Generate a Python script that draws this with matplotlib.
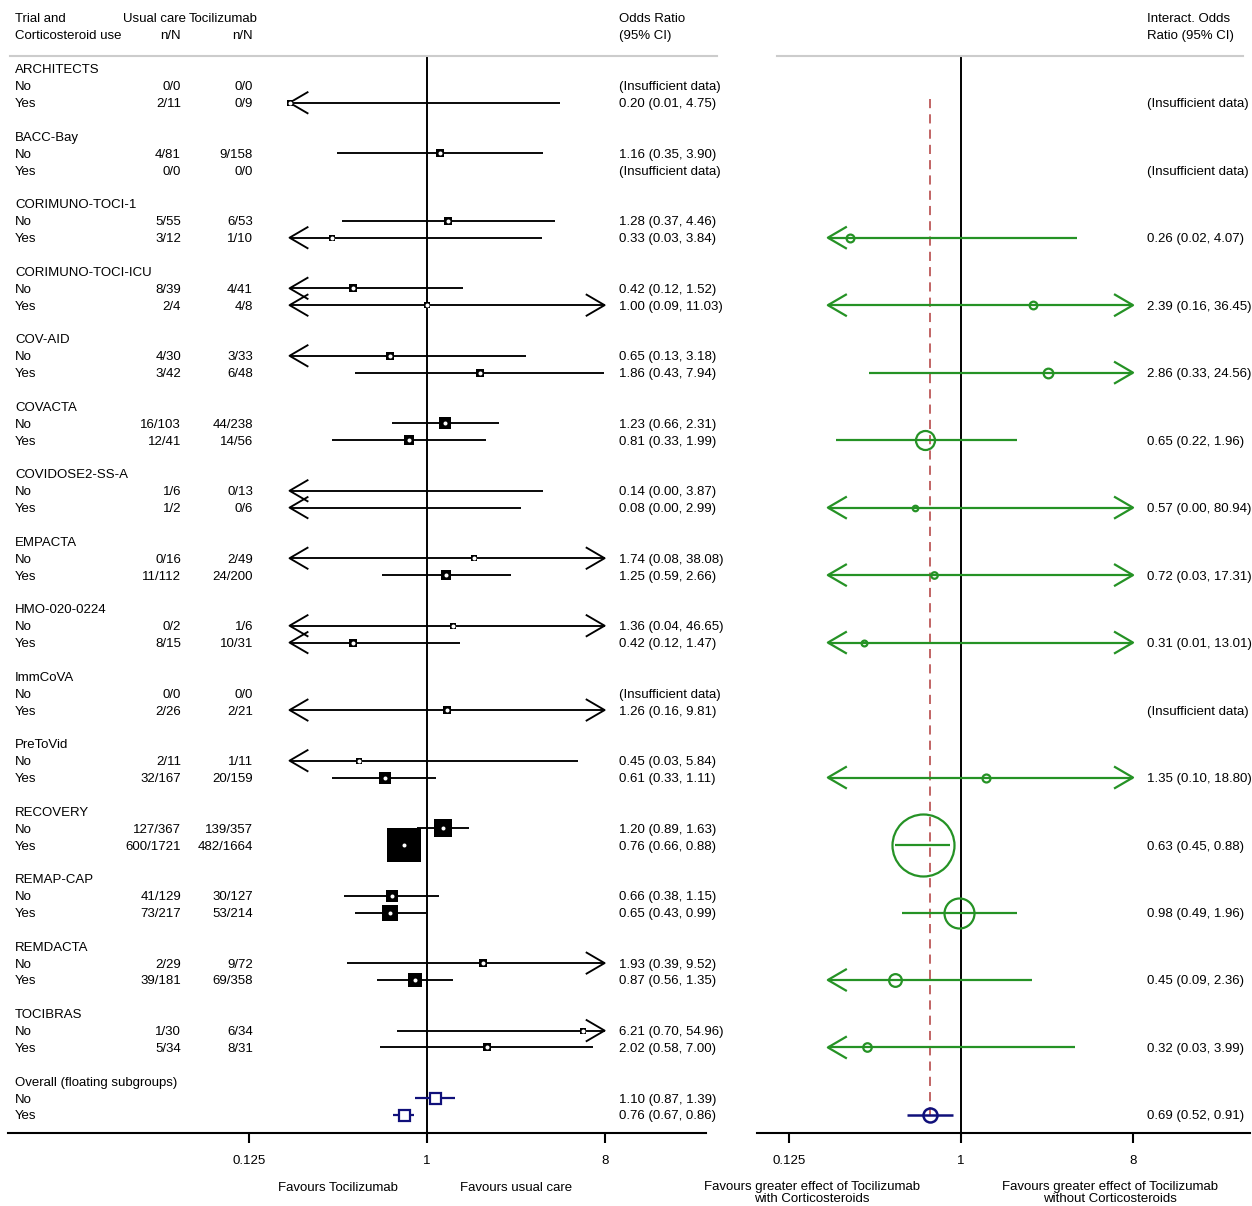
import matplotlib.pyplot as plt
import numpy as np
from matplotlib.lines import Line2D
from matplotlib.transforms import blended_transform_factory

plt.rcParams['font.family'] = ['Liberation Sans', 'DejaVu Sans']
plt.rcParams['font.size'] = 9.5

# ---- data -------------------------------------------------------------
trials = ['ARCHITECTS', 'BACC-Bay', 'CORIMUNO-TOCI-1', 'CORIMUNO-TOCI-ICU',
          'COV-AID', 'COVACTA', 'COVIDOSE2-SS-A', 'EMPACTA', 'HMO-020-0224',
          'ImmCoVA', 'PreToVid', 'RECOVERY', 'REMAP-CAP', 'REMDACTA', 'TOCIBRAS']

usual_no = ['0/0', '4/81', '5/55', '8/39', '4/30', '16/103', '1/6', '0/16',
            '0/2', '0/0', '2/11', '127/367', '41/129', '2/29', '1/30']
toci_no = ['0/0', '9/158', '6/53', '4/41', '3/33', '44/238', '0/13', '2/49',
           '1/6', '0/0', '1/11', '139/357', '30/127', '9/72', '6/34']
usual_yes = ['2/11', '0/0', '3/12', '2/4', '3/42', '12/41', '1/2', '11/112',
             '8/15', '2/26', '32/167', '600/1721', '73/217', '39/181', '5/34']
toci_yes = ['0/9', '0/0', '1/10', '4/8', '6/48', '14/56', '0/6', '24/200',
            '10/31', '2/21', '20/159', '482/1664', '53/214', '69/358', '8/31']

# odds ratios without corticosteroids (None = insufficient data)
or_no = [None, 1.16, 1.28, 0.42, 0.65, 1.23, 0.14, 1.74, 1.36, None, 0.45, 1.20, 0.66, 1.93, 6.21]
lo_no = [None, 0.35, 0.37, 0.12, 0.13, 0.66, 0.00, 0.08, 0.04, None, 0.03, 0.89, 0.38, 0.39, 0.70]
hi_no = [None, 3.90, 4.46, 1.52, 3.18, 2.31, 3.87, 38.08, 46.65, None, 5.84, 1.63, 1.15, 9.52, 54.96]

# odds ratios with corticosteroids
or_yes = [0.20, None, 0.33, 1.00, 1.86, 0.81, 0.08, 1.25, 0.42, 1.26, 0.61, 0.76, 0.65, 0.87, 2.02]
lo_yes = [0.01, None, 0.03, 0.09, 0.43, 0.33, 0.00, 0.59, 0.12, 0.16, 0.33, 0.66, 0.43, 0.56, 0.58]
hi_yes = [4.75, None, 3.84, 11.03, 7.94, 1.99, 2.99, 2.66, 1.47, 9.81, 1.11, 0.88, 0.99, 1.35, 7.00]

# interaction odds ratios
int_or = [None, None, 0.26, 2.39, 2.86, 0.65, 0.57, 0.72, 0.31, None, 1.35, 0.63, 0.98, 0.45, 0.32]
int_lo = [None, None, 0.02, 0.16, 0.33, 0.22, 0.00, 0.03, 0.01, None, 0.10, 0.45, 0.49, 0.09, 0.03]
int_hi = [None, None, 4.07, 36.45, 24.56, 1.96, 80.94, 17.31, 13.01, None, 18.80, 0.88, 1.96, 2.36, 3.99]

overall_or = [1.10, 0.76]
overall_lo = [0.87, 0.67]
overall_hi = [1.39, 0.86]
overall_int = [0.69, 0.52, 0.91]

# ---- layout -----------------------------------------------------------
W, H = 1252, 1206
ROW0, ROW_H = 69, 16.87
TOP, BOTTOM = 57, 1133
CLIP_LO, CLIP_HI = 0.2, 8
TXT_DY = 1.5 / ROW_H  # nudge text baseline slightly below the row centre
GREEN = '#259225'
NAVY = '#10107a'
RED = '#b03a3a'

fig = plt.figure(figsize=(W / 100, H / 100), dpi=100)


def fx(x):
    return x / W


def fy(y):
    return 1 - y / H


def make_axes(x0, x1, one_px, px_per_log2):
    ax = fig.add_axes([fx(x0), fy(BOTTOM), (x1 - x0) / W, (BOTTOM - TOP) / H])
    ax.set_xscale('log', base=2)
    ax.set_xlim(2 ** ((x0 - one_px) / px_per_log2), 2 ** ((x1 - one_px) / px_per_log2))
    ax.set_ylim((BOTTOM - ROW0) / ROW_H, (TOP - ROW0) / ROW_H)
    for side in ('top', 'left', 'right'):
        ax.spines[side].set_visible(False)
    ax.spines['bottom'].set_linewidth(1.5)
    ax.set_yticks([])
    ax.set_xticks([0.125, 1, 8])
    ax.set_xticklabels(['0.125', '1', '8'])
    ax.xaxis.set_minor_locator(plt.NullLocator())
    ax.tick_params(axis='x', length=7, width=1.5, pad=9, labelsize=9.5)
    ax.axvline(1, color='black', lw=1.4, zorder=1)
    return ax


def weight(lo, hi):
    return (3.92 / np.log(hi / max(lo, 0.001))) ** 2


def draw_ci(ax, lo, hi, y, color, lw, px_per_log2):
    a = max(lo, CLIP_LO)
    b = min(hi, CLIP_HI)
    ax.plot([a, b], [y, y], color=color, lw=lw, solid_capstyle='butt', zorder=2)
    k = 2 ** (18 / px_per_log2)
    dy = 10.5 / ROW_H
    if lo < CLIP_LO:
        ax.plot([CLIP_LO * k, CLIP_LO, CLIP_LO * k], [y - dy, y, y + dy],
                color=color, lw=lw, zorder=2)
    if hi > CLIP_HI:
        ax.plot([CLIP_HI / k, CLIP_HI, CLIP_HI / k], [y - dy, y, y + dy],
                color=color, lw=lw, zorder=2)


def fmt(v, lo, hi):
    return f'{v:.2f} ({lo:.2f}, {hi:.2f})'


ax1 = make_axes(8, 706, 427, 59.2)
ax2 = make_axes(757, 1250, 961, 57.33)
tr1 = blended_transform_factory(fig.transFigure, ax1.transData)
tr2 = blended_transform_factory(fig.transFigure, ax2.transData)


def put(tr, x, y, s, **kw):
    fig.text(fx(x), y + TXT_DY, s, transform=tr, va='center', **kw)


# ---- header -----------------------------------------------------------
fig.text(fx(15), fy(19), 'Trial and', va='center')
fig.text(fx(15), fy(36), 'Corticosteroid use', va='center')
fig.text(fx(186), fy(19), 'Usual care', ha='right', va='center')
fig.text(fx(258), fy(19), 'Tocilizumab', ha='right', va='center')
fig.text(fx(181), fy(36), 'n/N', ha='right', va='center')
fig.text(fx(253), fy(36), 'n/N', ha='right', va='center')
fig.text(fx(619), fy(19), 'Odds Ratio', va='center')
fig.text(fx(619), fy(36), '(95% CI)', va='center')
fig.text(fx(1147), fy(19), 'Interact. Odds', va='center')
fig.text(fx(1147), fy(36), 'Ratio (95% CI)', va='center')
for x0, x1 in [(10, 717), (777, 1243)]:
    fig.add_artist(Line2D([fx(x0), fx(x1)], [fy(56), fy(56)], color='#cccccc',
                          lw=1.5, transform=fig.transFigure))

# ---- trial rows -------------------------------------------------------
all_w = [weight(l, h) for l, h in zip(lo_no + lo_yes, hi_no + hi_yes) if l is not None]
wmax = max(all_w)
int_w = [weight(l, h) for l, h in zip(int_lo, int_hi) if l is not None]
wmax_int = max(int_w)

for g, name in enumerate(trials):
    base = 4 * g
    put(tr1, 15, base, name)
    subgroups = [
        ('No', usual_no[g], toci_no[g], or_no[g], lo_no[g], hi_no[g]),
        ('Yes', usual_yes[g], toci_yes[g], or_yes[g], lo_yes[g], hi_yes[g]),
    ]
    for j, (lab, uc, tc, v, lo, hi) in enumerate(subgroups):
        y = base + 1 + j
        put(tr1, 15, y, lab)
        put(tr1, 181, y, uc, ha='right')
        put(tr1, 253, y, tc, ha='right')
        if v is None:
            put(tr1, 619, y, '(Insufficient data)')
            continue
        put(tr1, 619, y, fmt(v, lo, hi))
        draw_ci(ax1, lo, hi, y, 'black', 1.35, 59.2)
        if CLIP_LO - 1e-9 <= v <= CLIP_HI:
            side = 5 + 29 * np.sqrt(weight(lo, hi) / wmax)
            ax1.plot(v, y, 's', color='black', ms=side * 0.72, mew=0, zorder=3)
            ax1.plot(v, y, 'o', color='white', ms=4 * 0.72, mew=0, zorder=4)

    # interaction estimate sits on the "Yes" row
    y = base + 2
    v, lo, hi = int_or[g], int_lo[g], int_hi[g]
    if v is None:
        put(tr2, 1147, y, '(Insufficient data)')
        continue
    put(tr2, 1147, y, fmt(v, lo, hi))
    draw_ci(ax2, lo, hi, y, GREEN, 1.6, 57.33)
    diam = max(5.5, 62 * np.sqrt(weight(lo, hi) / wmax_int))
    ax2.plot(v, y, 'o', mfc='none', mec=GREEN, mew=1.6, ms=diam * 0.72, zorder=3)

# ---- overall ----------------------------------------------------------
ybase = 4 * len(trials)
put(tr1, 15, ybase, 'Overall (floating subgroups)')
for j, lab in enumerate(['No', 'Yes']):
    y = ybase + 1 + j
    put(tr1, 15, y, lab)
    v, lo, hi = overall_or[j], overall_lo[j], overall_hi[j]
    put(tr1, 619, y, fmt(v, lo, hi))
    draw_ci(ax1, lo, hi, y, NAVY, 1.6, 59.2)
    ax1.plot(v, y, 's', mfc='white', mec=NAVY, mew=1.6, ms=11 * 0.72, zorder=3)

v, lo, hi = overall_int
y = ybase + 2
put(tr2, 1147, y, fmt(v, lo, hi))
ax2.plot([v, v], [1.8, y], color=RED, lw=1.1, dashes=(6, 4), zorder=1)
draw_ci(ax2, lo, hi, y, NAVY, 1.8, 57.33)
ax2.plot(v, y, 'o', mfc='none', mec=NAVY, mew=1.8, ms=14 * 0.72, zorder=3)

# ---- footer -----------------------------------------------------------
fig.text(fx(338), fy(1188), 'Favours Tocilizumab', ha='center', va='center')
fig.text(fx(516), fy(1188), 'Favours usual care', ha='center', va='center')
fig.text(fx(812), fy(1181), 'Favours greater effect of Tocilizumab\nwith Corticosteroids',
         ha='center', va='top', linespacing=1.0)
fig.text(fx(1110), fy(1181), 'Favours greater effect of Tocilizumab\nwithout Corticosteroids',
         ha='center', va='top', linespacing=1.0)

fig.savefig('out.png', dpi=100)
